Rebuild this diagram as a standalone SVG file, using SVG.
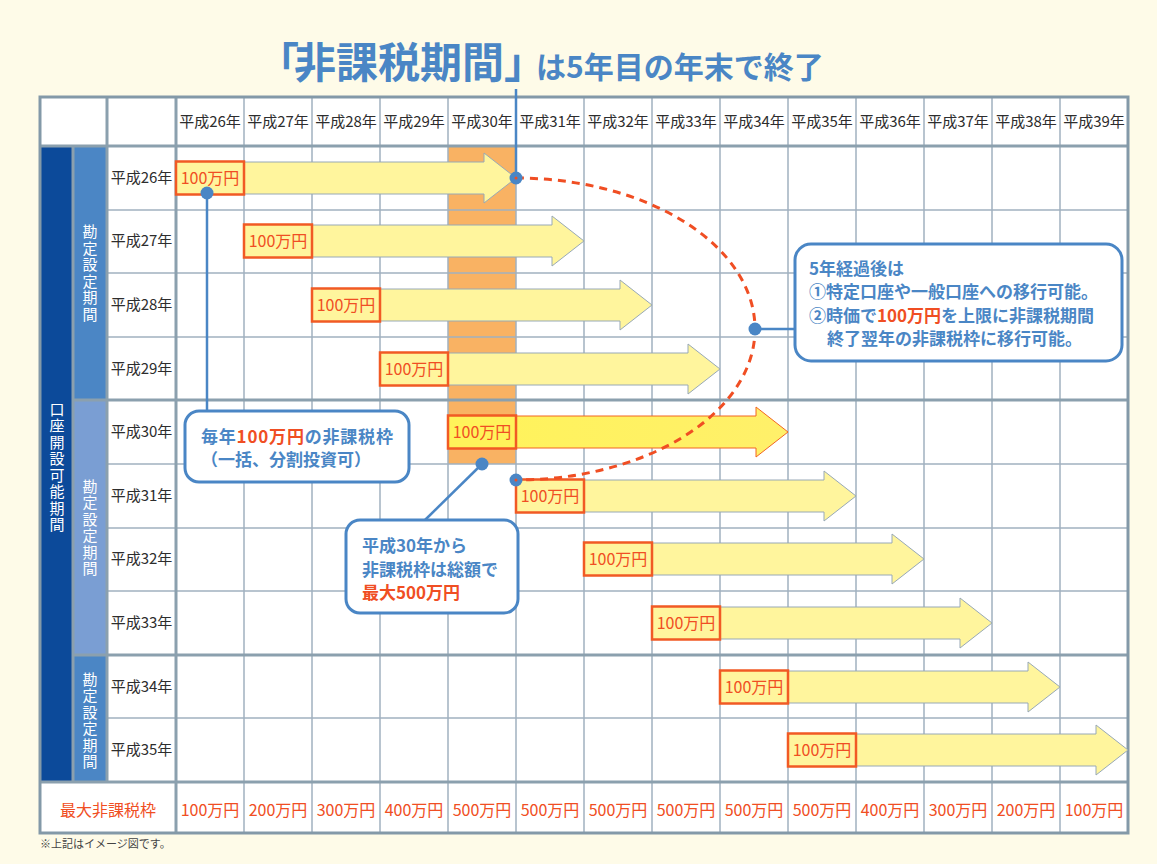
<svg xmlns="http://www.w3.org/2000/svg" width="1157" height="864" viewBox="0 0 1157 864">
<defs>
<style>
text{font-family:"Noto Sans CJK JP","Noto Sans",sans-serif}
.g{stroke:#a0b1bf;stroke-width:1.5}
.gt{stroke:#8ba0ae;stroke-width:3}
.yr{font-size:15px;fill:#2d2d2d;text-anchor:middle}
.arr{fill:#fff59d;stroke:#98a9b6;stroke-width:1}
.box{fill:#fff59d;stroke:#f15a24;stroke-width:2.5}
.lbl{font-size:16px;fill:#f04e23;text-anchor:middle}
.val{font-size:16px;fill:#f04e23;text-anchor:middle}
.vt{font-size:15px;fill:#fff;text-anchor:middle}
.co{fill:#fff;stroke:#4a86c5;stroke-width:3}
.ct{font-size:17px;font-weight:bold;fill:#4a86c5}
.tt{font-weight:bold;fill:#4a86c5}
.red{fill:#f04e23}
.cl{stroke:#4a86c5;stroke-width:2.5;fill:none}
.dot{fill:#4a86c5}
.rd{fill:#f04e23}
</style>
<linearGradient id="yg" x1="0" y1="0" x2="1" y2="0">
<stop offset="0" stop-color="#fff35a"/>
<stop offset="1" stop-color="#fff06a"/>
</linearGradient>
</defs>
<rect width="1157" height="864" fill="#fefbe8"/>

<g id="title">
<text class="tt" x="257" y="78" font-size="42">「</text>
<text class="tt" x="294" y="78" font-size="42">非課税期間</text>
<text class="tt" x="504" y="78" font-size="42">」</text>
<text class="tt" x="536" y="78" font-size="30">は5年目の年末で終了</text>
</g>

<g id="table">
<rect x="40" y="97" width="1088" height="736" fill="#fff"/>
<rect x="448" y="146" width="68" height="318" fill="#f9b263"/>
<rect x="40" y="146" width="33" height="636" fill="#0c4a9a"/>
<rect x="73" y="146" width="34" height="254" fill="#4b86c5"/>
<rect x="73" y="400" width="34" height="255" fill="#7a9ed3"/>
<rect x="73" y="655" width="34" height="127" fill="#4b86c5"/>
<g id="grid">
<line class="g" x1="107" y1="210" x2="1128" y2="210"/>
<line class="g" x1="107" y1="273" x2="1128" y2="273"/>
<line class="g" x1="107" y1="337" x2="1128" y2="337"/>
<line class="g" x1="107" y1="464" x2="1128" y2="464"/>
<line class="g" x1="107" y1="528" x2="1128" y2="528"/>
<line class="g" x1="107" y1="591" x2="1128" y2="591"/>
<line class="g" x1="107" y1="718" x2="1128" y2="718"/>
<line class="g" x1="244" y1="97" x2="244" y2="833"/>
<line class="g" x1="312" y1="97" x2="312" y2="833"/>
<line class="g" x1="380" y1="97" x2="380" y2="833"/>
<line class="g" x1="448" y1="97" x2="448" y2="833"/>
<line class="g" x1="516" y1="97" x2="516" y2="833"/>
<line class="g" x1="584" y1="97" x2="584" y2="833"/>
<line class="g" x1="652" y1="97" x2="652" y2="833"/>
<line class="g" x1="720" y1="97" x2="720" y2="833"/>
<line class="g" x1="788" y1="97" x2="788" y2="833"/>
<line class="g" x1="856" y1="97" x2="856" y2="833"/>
<line class="g" x1="924" y1="97" x2="924" y2="833"/>
<line class="g" x1="992" y1="97" x2="992" y2="833"/>
<line class="g" x1="1060" y1="97" x2="1060" y2="833"/>
<line class="gt" x1="107" y1="97" x2="107" y2="782"/>
<line class="gt" x1="176" y1="97" x2="176" y2="833"/>
<line class="gt" x1="73" y1="146" x2="73" y2="782"/>
<line class="gt" x1="40" y1="146" x2="1128" y2="146"/>
<line class="gt" x1="73" y1="400" x2="1128" y2="400"/>
<line class="gt" x1="73" y1="655" x2="1128" y2="655"/>
<line class="gt" x1="40" y1="782" x2="1128" y2="782"/>
<rect x="40" y="97" width="1088" height="736" fill="none" stroke="#8399a8" stroke-width="3"/>
</g>
<g id="header">
<text class="yr" x="210" y="127">平成26年</text>
<text class="yr" x="278" y="127">平成27年</text>
<text class="yr" x="346" y="127">平成28年</text>
<text class="yr" x="414" y="127">平成29年</text>
<text class="yr" x="482" y="127">平成30年</text>
<text class="yr" x="550" y="127">平成31年</text>
<text class="yr" x="618" y="127">平成32年</text>
<text class="yr" x="686" y="127">平成33年</text>
<text class="yr" x="754" y="127">平成34年</text>
<text class="yr" x="822" y="127">平成35年</text>
<text class="yr" x="890" y="127">平成36年</text>
<text class="yr" x="958" y="127">平成37年</text>
<text class="yr" x="1026" y="127">平成38年</text>
<text class="yr" x="1094" y="127">平成39年</text>
</g>
<g id="rowlabels">
<text class="yr" x="141.5" y="183">平成26年</text>
<text class="yr" x="141.5" y="246">平成27年</text>
<text class="yr" x="141.5" y="310">平成28年</text>
<text class="yr" x="141.5" y="374">平成29年</text>
<text class="yr" x="141.5" y="437">平成30年</text>
<text class="yr" x="141.5" y="501">平成31年</text>
<text class="yr" x="141.5" y="564">平成32年</text>
<text class="yr" x="141.5" y="628">平成33年</text>
<text class="yr" x="141.5" y="692">平成34年</text>
<text class="yr" x="141.5" y="755">平成35年</text>
</g>
<g id="sidelabels">
<text class="vt"><tspan x="57" y="414.5">口</tspan><tspan x="57" dy="16.5">座</tspan><tspan x="57" dy="16.5">開</tspan><tspan x="57" dy="16.5">設</tspan><tspan x="57" dy="16.5">可</tspan><tspan x="57" dy="16.5">能</tspan><tspan x="57" dy="16.5">期</tspan><tspan x="57" dy="16.5">間</tspan></text>
<text class="vt"><tspan x="90" y="237">勘</tspan><tspan x="90" dy="16.5">定</tspan><tspan x="90" dy="16.5">設</tspan><tspan x="90" dy="16.5">定</tspan><tspan x="90" dy="16.5">期</tspan><tspan x="90" dy="16.5">間</tspan></text>
<text class="vt"><tspan x="90" y="491.5">勘</tspan><tspan x="90" dy="16.5">定</tspan><tspan x="90" dy="16.5">設</tspan><tspan x="90" dy="16.5">定</tspan><tspan x="90" dy="16.5">期</tspan><tspan x="90" dy="16.5">間</tspan></text>
<text class="vt"><tspan x="90" y="684.5">勘</tspan><tspan x="90" dy="16.5">定</tspan><tspan x="90" dy="16.5">設</tspan><tspan x="90" dy="16.5">定</tspan><tspan x="90" dy="16.5">期</tspan><tspan x="90" dy="16.5">間</tspan></text>
</g>
<g id="maxrow">
<text class="val" x="108" y="816">最大非課税枠</text>
<text class="val" x="210" y="816">100万円</text>
<text class="val" x="278" y="816">200万円</text>
<text class="val" x="346" y="816">300万円</text>
<text class="val" x="414" y="816">400万円</text>
<text class="val" x="482" y="816">500万円</text>
<text class="val" x="550" y="816">500万円</text>
<text class="val" x="618" y="816">500万円</text>
<text class="val" x="686" y="816">500万円</text>
<text class="val" x="754" y="816">500万円</text>
<text class="val" x="822" y="816">500万円</text>
<text class="val" x="890" y="816">400万円</text>
<text class="val" x="958" y="816">300万円</text>
<text class="val" x="1026" y="816">200万円</text>
<text class="val" x="1094" y="816">100万円</text>
</g>
</g>

<g id="arrows">
<g id="a26"><polygon class="arr" points="176,162 484,162 484,153 516,178 484,203 484,194 176,194"/><rect class="box" x="176" y="161.5" width="68" height="33"/><text class="lbl" x="210" y="183.5">100万円</text></g>
<g id="a27"><polygon class="arr" points="244,225 552,225 552,216 584,241 552,266 552,257 244,257"/><rect class="box" x="244" y="224.5" width="68" height="33"/><text class="lbl" x="278" y="246.5">100万円</text></g>
<g id="a28"><polygon class="arr" points="312,289 620,289 620,280 652,305 620,330 620,321 312,321"/><rect class="box" x="312" y="288.5" width="68" height="33"/><text class="lbl" x="346" y="310.5">100万円</text></g>
<g id="a29"><polygon class="arr" points="380,353 688,353 688,344 720,369 688,394 688,385 380,385"/><rect class="box" x="380" y="352.5" width="68" height="33"/><text class="lbl" x="414" y="374.5">100万円</text></g>
<g id="a30"><polygon points="448,416 756,416 756,407 788,432 756,457 756,448 448,448" fill="url(#yg)" stroke="#f26522" stroke-width="1"/><rect class="box" x="448" y="415.5" width="68" height="33" style="fill:#fff35a"/><text class="lbl" x="482" y="437.5">100万円</text></g>
<g id="a31"><polygon class="arr" points="516,480 824,480 824,471 856,496 824,521 824,512 516,512"/><rect class="box" x="516" y="479.5" width="68" height="33"/><text class="lbl" x="550" y="501.5">100万円</text></g>
<g id="a32"><polygon class="arr" points="584,543 892,543 892,534 924,559 892,584 892,575 584,575"/><rect class="box" x="584" y="542.5" width="68" height="33"/><text class="lbl" x="618" y="564.5">100万円</text></g>
<g id="a33"><polygon class="arr" points="652,607 960,607 960,598 992,623 960,648 960,639 652,639"/><rect class="box" x="652" y="606.5" width="68" height="33"/><text class="lbl" x="686" y="628.5">100万円</text></g>
<g id="a34"><polygon class="arr" points="720,671 1028,671 1028,662 1060,687 1028,712 1028,703 720,703"/><rect class="box" x="720" y="670.5" width="68" height="33"/><text class="lbl" x="754" y="692.5">100万円</text></g>
<g id="a35"><polygon class="arr" points="788,734 1096,734 1096,725 1128,750 1096,775 1096,766 788,766"/><rect class="box" x="788" y="733.5" width="68" height="33"/><text class="lbl" x="822" y="755.5">100万円</text></g>
</g>

<g id="connectors">
<path d="M516,178 A239,151 0 0 1 516,480" fill="none" stroke="#f04e23" stroke-width="3" stroke-dasharray="8,6"/>
<line class="cl" x1="516" y1="89" x2="516" y2="178"/>
<line class="cl" x1="207" y1="193" x2="207" y2="411"/>
<line class="cl" x1="482" y1="464" x2="425" y2="520"/>
<line class="cl" x1="755" y1="329" x2="795" y2="329"/>
<circle class="dot" cx="516" cy="178" r="6.5"/>
<circle class="rd" cx="516" cy="178" r="1.5"/>
<circle class="dot" cx="207" cy="193" r="6.5"/>
<circle class="dot" cx="482" cy="464" r="6.5"/>
<circle class="dot" cx="516" cy="480" r="6.5"/>
<circle class="rd" cx="516" cy="480" r="1.5"/>
<circle class="dot" cx="755" cy="329" r="6.5"/>
</g>

<g id="callout-5yr">
<rect class="co" x="795" y="244" width="327" height="117" rx="16"/>
<text class="ct" x="809" y="275">5年経過後は</text>
<text class="ct" x="809" y="298">①特定口座や一般口座への移行可能。</text>
<text class="ct" x="809" y="322">②時価で<tspan class="red">100万円</tspan>を上限に非課税期間</text>
<text class="ct" x="827" y="345">終了翌年の非課税枠に移行可能。</text>
</g>
<g id="callout-annual">
<rect class="co" x="185" y="411" width="224" height="71" rx="14"/>
<text class="ct" x="201" y="443" letter-spacing="0.8">毎年<tspan class="red">100万円</tspan>の非課税枠</text>
<text class="ct" x="201" y="466">（一括、分割投資可）</text>
</g>
<g id="callout-total">
<rect class="co" x="346" y="520" width="172" height="93" rx="14"/>
<text class="ct" x="362" y="552">平成30年から</text>
<text class="ct" x="362" y="576">非課税枠は総額で</text>
<text class="ct red" x="362" y="599">最大500万円</text>
</g>

<text x="40" y="848" font-size="11" fill="#444">※上記はイメージ図です。</text>
</svg>
